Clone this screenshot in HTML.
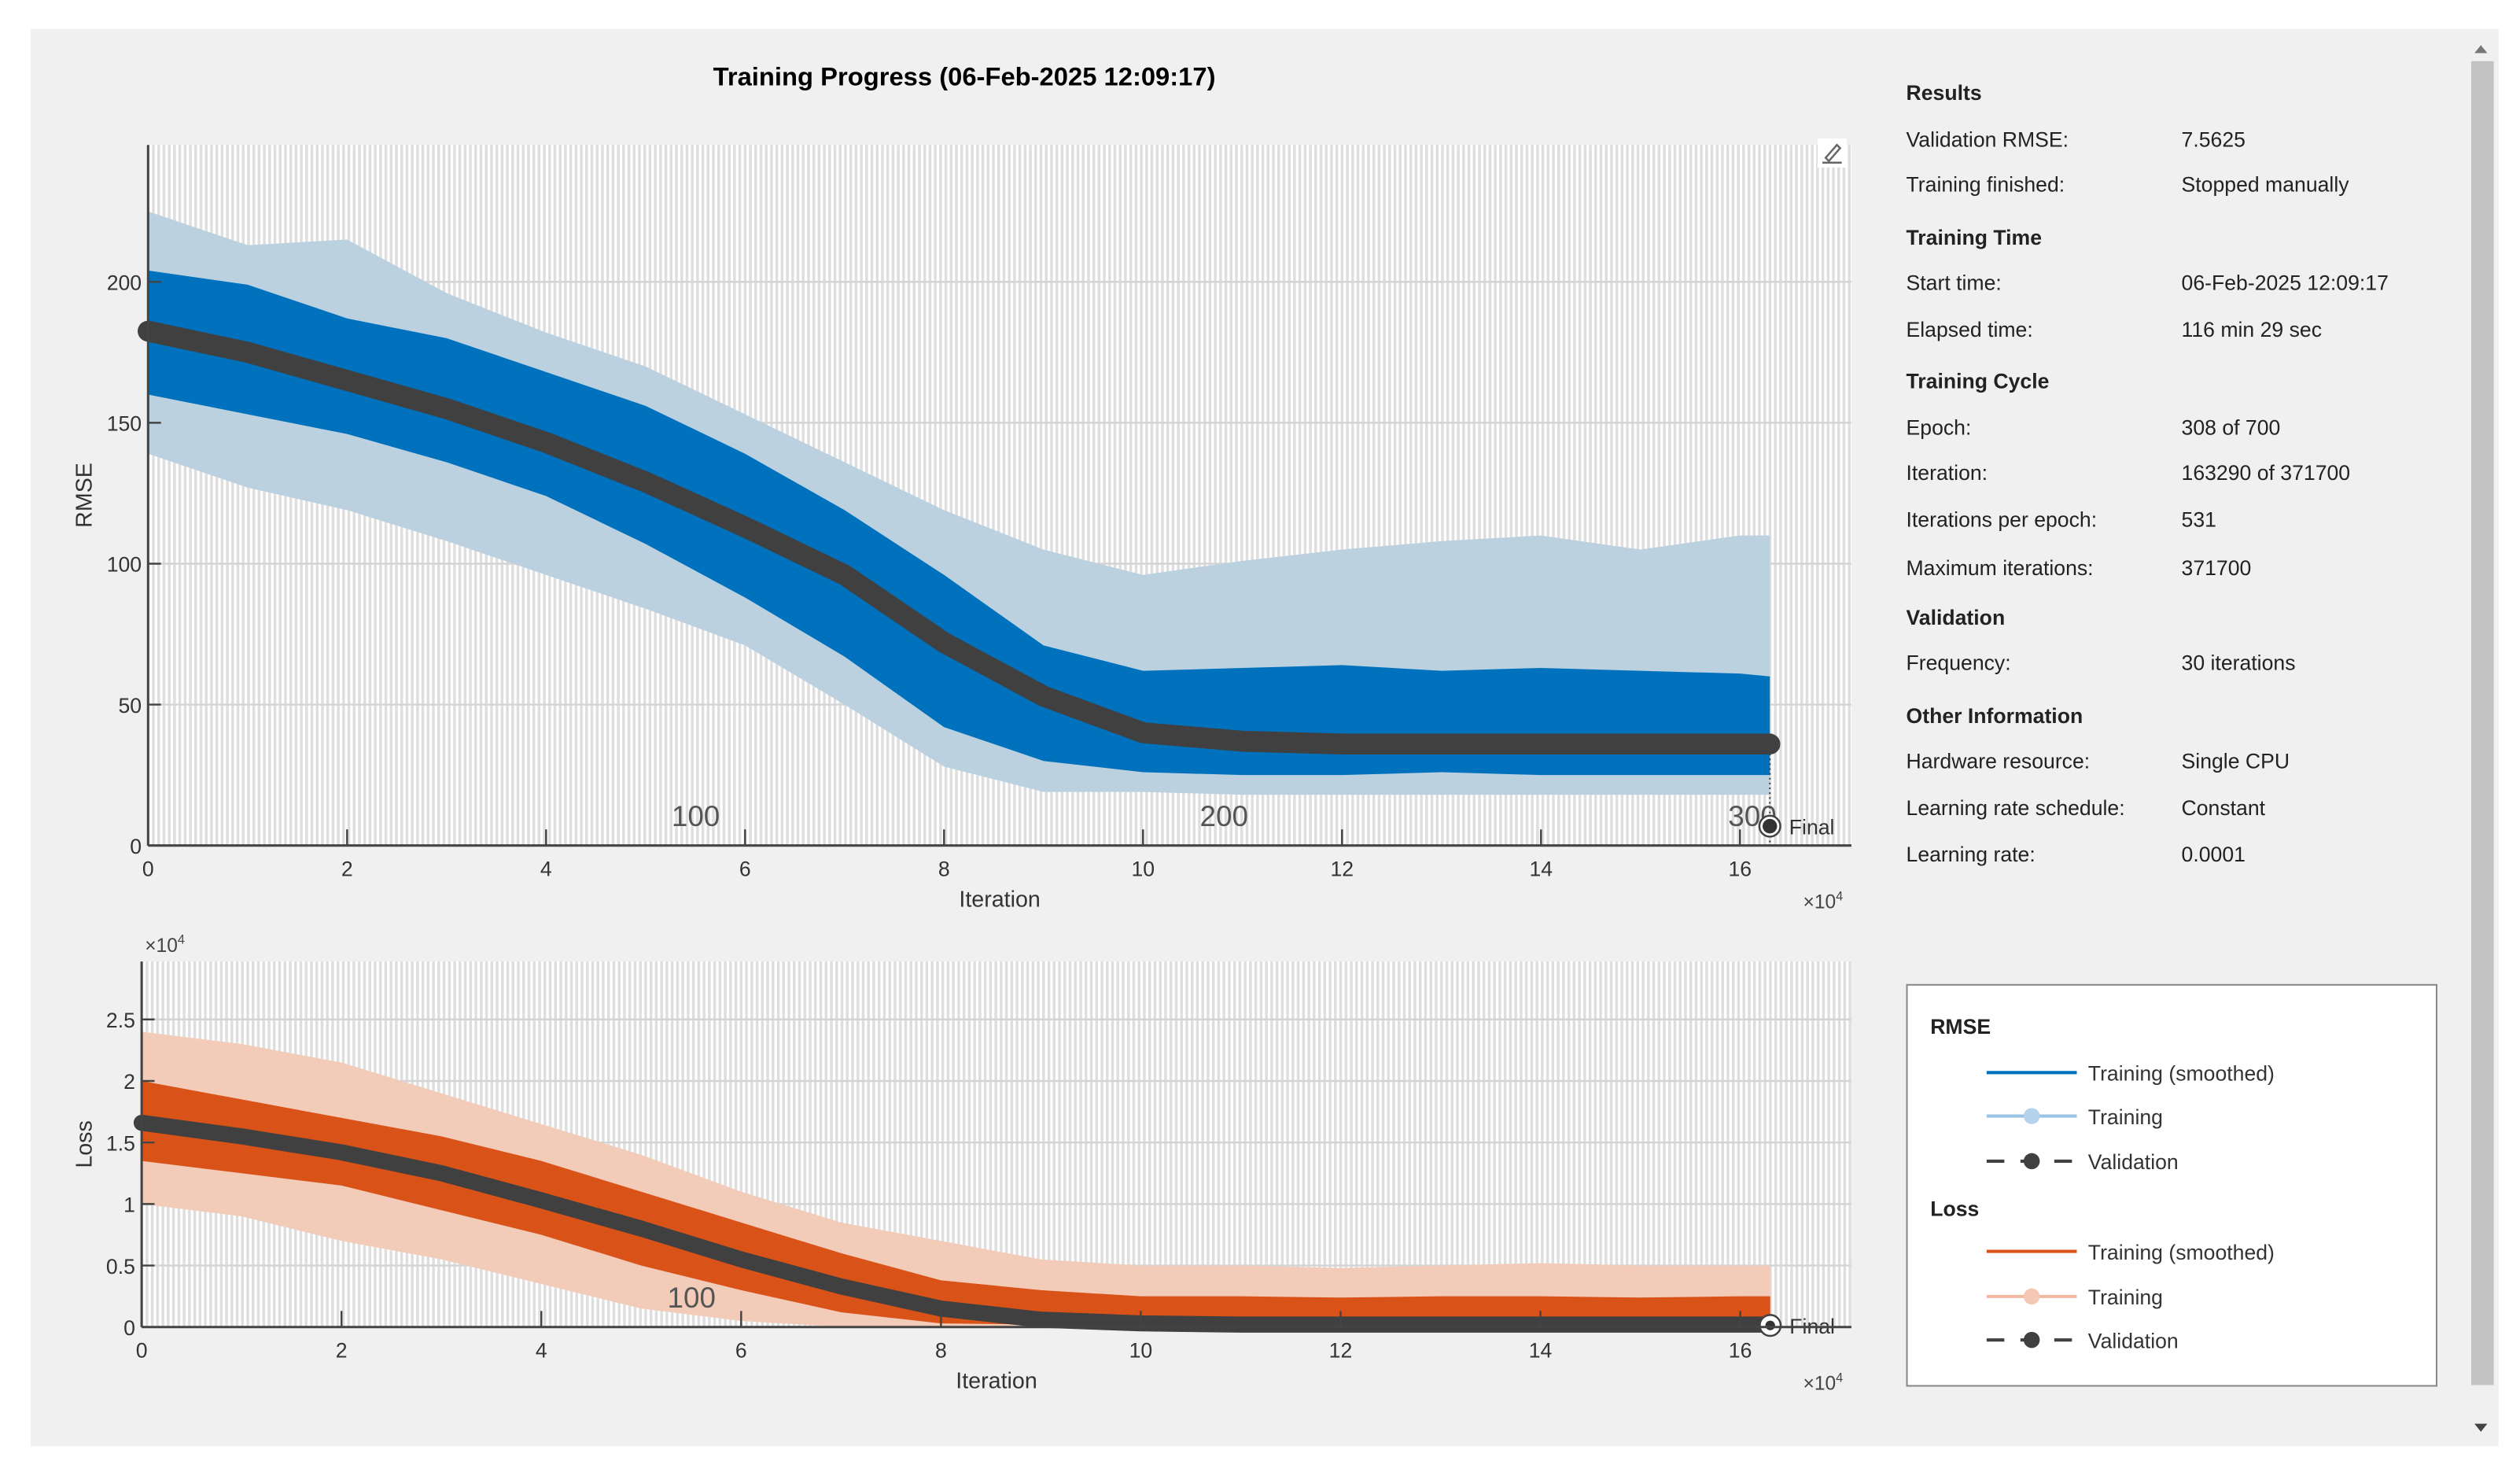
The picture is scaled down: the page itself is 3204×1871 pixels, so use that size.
<!DOCTYPE html>
<html><head><meta charset="utf-8"><style>
html,body{margin:0;padding:0;background:#fff;}
svg{display:block;font-family:"Liberation Sans",Arial,sans-serif;}
</style></head><body>
<svg id="fig" width="3204" height="1871" viewBox="0 0 1565.3 914" preserveAspectRatio="none" xmlns="http://www.w3.org/2000/svg">
<rect x="0" y="0" width="1565.3" height="914" fill="#ffffff"/>
<rect x="19" y="18" width="1533" height="880" fill="#f0f0f0"/>
<g>
<rect x="1535" y="38" width="14" height="822" fill="#c2c2c2"/>
<path d="M1537 33 L1545 33 L1541 28 Z" fill="#777"/>
<path d="M1537 884 L1545 884 L1541 889 Z" fill="#444"/>
</g>
<text x="599" y="53" font-size="16" font-weight="bold" text-anchor="middle" fill="#000">Training Progress (06-Feb-2025 12:09:17)</text>

<g id="topAx"></g>
<g id="botAx"></g>

<g transform="translate(1138,95)">
<rect x="-9" y="-9" width="18" height="18" fill="#fff"/>
<path d="M-6 6 L6 6 M-4 3 L3 -5 L5 -3 L-2 5 Z" stroke="#666" fill="none" stroke-width="1.2"/>
</g>

<g font-size="13" fill="#222">
<text x="1184" y="62" font-weight="bold">Results</text>
<text x="1184" y="91">Validation RMSE:</text><text x="1355" y="91">7.5625</text>
<text x="1184" y="119">Training finished:</text><text x="1355" y="119">Stopped manually</text>
<text x="1184" y="152" font-weight="bold">Training Time</text>
<text x="1184" y="180">Start time:</text><text x="1355" y="180">06-Feb-2025 12:09:17</text>
<text x="1184" y="209">Elapsed time:</text><text x="1355" y="209">116 min 29 sec</text>
<text x="1184" y="241" font-weight="bold">Training Cycle</text>
<text x="1184" y="270">Epoch:</text><text x="1355" y="270">308 of 700</text>
<text x="1184" y="298">Iteration:</text><text x="1355" y="298">163290 of 371700</text>
<text x="1184" y="327">Iterations per epoch:</text><text x="1355" y="327">531</text>
<text x="1184" y="357">Maximum iterations:</text><text x="1355" y="357">371700</text>
<text x="1184" y="388" font-weight="bold">Validation</text>
<text x="1184" y="416">Frequency:</text><text x="1355" y="416">30 iterations</text>
<text x="1184" y="449" font-weight="bold">Other Information</text>
<text x="1184" y="477">Hardware resource:</text><text x="1355" y="477">Single CPU</text>
<text x="1184" y="506">Learning rate schedule:</text><text x="1355" y="506">Constant</text>
<text x="1184" y="535">Learning rate:</text><text x="1355" y="535">0.0001</text>
</g>

<g font-size="13" fill="#333">
<rect x="1184.5" y="611.5" width="329" height="249" fill="#fff" stroke="#888" stroke-width="1"/>
<text x="1199" y="642" font-weight="bold" fill="#222">RMSE</text>
<g><line x1="1234" y1="666" x2="1290" y2="666" stroke="#0072bd" stroke-width="2"/><text x="1297" y="671">Training (smoothed)</text></g>
<g><line x1="1234" y1="693" x2="1290" y2="693" stroke="#9cc3e2" stroke-width="2"/><circle cx="1262" cy="693" r="5" fill="#b5d3ec"/><text x="1297" y="698">Training</text></g>
<g><line x1="1234" y1="721" x2="1290" y2="721" stroke="#404040" stroke-width="2" stroke-dasharray="11,10"/><circle cx="1262" cy="721" r="5" fill="#404040"/><text x="1297" y="726">Validation</text></g>
<text x="1199" y="755" font-weight="bold" fill="#222">Loss</text>
<g><line x1="1234" y1="777" x2="1290" y2="777" stroke="#d95319" stroke-width="2"/><text x="1297" y="782">Training (smoothed)</text></g>
<g><line x1="1234" y1="805" x2="1290" y2="805" stroke="#f0b8a0" stroke-width="2"/><circle cx="1262" cy="805" r="5" fill="#f4c8b4"/><text x="1297" y="810">Training</text></g>
<g><line x1="1234" y1="832" x2="1290" y2="832" stroke="#404040" stroke-width="2" stroke-dasharray="11,10"/><circle cx="1262" cy="832" r="5" fill="#404040"/><text x="1297" y="837">Validation</text></g>
</g>
</svg>
<script>
// ---- data (iterations in units of 1e4) ----
const iterTicks = [0,2,4,6,8,10,12,14,16];
const rmseTicks = [0,50,100,150,200];
const lossTicks = [0,0.5,1,1.5,2,2.5];
const lossTickLabels = ["0","0.5","1","1.5","2","2.5"];
const itersPerEpoch = 531;
const maxIterShown = 17.12e4;
const epochLabels = [100,200,300];
const sampleIters = [0,1,2,3,4,5,6,7,8,9,10,11,12,13,14,15,16,16.3];
const rmseValidation = [182.5,175,165,155,143,129,113,96,72,53,40,37,36,36,36,36,36,36];
const rmseSmoothHi = [204,199,187,180,168,156,139,119,96,71,62,63,64,62,63,62,61,60];
const rmseSmoothLo = [160,153,146,136,124,107,88,67,42,30,26,25,25,26,25,25,25,25];
const rmseRawHi = [225,213,215,196,182,170,153,136,119,105,96,101,105,108,110,105,110,110];
const rmseRawLo = [139,127,119,108,96,84,71,50,28,19,19,18,18,18,18,18,18,18];
const lossValidation = [1.66,1.55,1.42,1.25,1.03,0.8,0.55,0.33,0.15,0.06,0.03,0.02,0.02,0.02,0.02,0.02,0.02,0.02];
const lossSmoothHi = [2.0,1.85,1.7,1.55,1.35,1.1,0.85,0.6,0.38,0.3,0.25,0.25,0.24,0.25,0.25,0.24,0.25,0.25];
const lossSmoothLo = [1.35,1.25,1.15,0.95,0.75,0.5,0.3,0.12,0.03,0.02,0.02,0.02,0.02,0.02,0.02,0.02,0.02,0.02];
const lossRawHi = [2.4,2.3,2.15,1.9,1.65,1.4,1.1,0.85,0.7,0.55,0.5,0.5,0.48,0.5,0.52,0.5,0.5,0.5];
const lossRawLo = [1.0,0.9,0.7,0.55,0.35,0.15,0.05,0,0,0,0,0,0,0,0,0,0,0];

const NS="http://www.w3.org/2000/svg";
function mk(parent,tag,attrs){const e=document.createElementNS(NS,tag);for(const k in attrs)e.setAttribute(k,attrs[k]);parent.appendChild(e);return e;}

function drawAxes(g,o){
  const x=v=>o.x0+v/1e4*o.pxPer;
  const y=v=>o.yBot-(v-0)*o.pyPer;
  mk(g,'rect',{x:o.x0,y:o.yTop,width:o.x1-o.x0,height:o.yBot-o.yTop,fill:'#ffffff'});
  for(let k=1;k*itersPerEpoch<=maxIterShown;k++){
    const l=mk(g,'line',{x1:x(k*itersPerEpoch),x2:x(k*itersPerEpoch),y1:o.yTop,y2:o.yBot,stroke:'#dedede','stroke-width':1.7});
    
    
  }
  o.yTicks.forEach(t=>{ if(t>0){const l=mk(g,'line',{x1:o.x0,x2:o.x1,y1:y(t),y2:y(t),stroke:'#d4d4d4','stroke-width':1.2});
    
    }});
  const band=(hi,lo,fill,name)=>{
    let d='';sampleIters.forEach((s,i)=>{d+=(i?'L':'M')+x(s*1e4)+' '+y(hi[i])+' ';});
    for(let i=sampleIters.length-1;i>=0;i--)d+='L'+x(sampleIters[i]*1e4)+' '+y(lo[i])+' ';
    const p=mk(g,'path',{d:d+'Z',fill:fill});
    
    
  };
  band(o.rawHi,o.rawLo,o.rawColor,'training-raw-band');
  band(o.smHi,o.smLo,o.smColor,'training-smoothed-band');
  let d='';sampleIters.forEach((s,i)=>{d+=(i?'L':'M')+x(s*1e4)+' '+y(o.val[i])+' ';});
  const vl=mk(g,'path',{d:d,fill:'none',stroke:'#404040','stroke-width':o.valW,'stroke-linecap':'round','stroke-linejoin':'round'});
  
  
  o.epochLbls.forEach(ep=>{const t=mk(g,'text',{x:x(ep*itersPerEpoch)+12,y:o.yBot-12,'font-size':18,'text-anchor':'middle',fill:'#555'});t.textContent=ep;
    
    });
  const fx=x(sampleIters[sampleIters.length-1]*1e4);
  mk(g,'line',{x1:fx,x2:fx,y1:y(o.val[o.val.length-1]),y2:o.yBot,stroke:'#404040','stroke-dasharray':'1,2'});
  const fc=mk(g,'circle',{cx:fx,cy:o.finalY,r:6.5,fill:'#fff',stroke:'#404040','stroke-width':1.2});
  
  
  mk(g,'circle',{cx:fx,cy:o.finalY,r:o.finalDot,fill:'#333'});
  const ft=mk(g,'text',{x:fx+12,y:o.finalY+5,'font-size':13,fill:'#333'});ft.textContent='Final';
  mk(g,'line',{x1:o.x0,x2:o.x1,y1:o.yBot,y2:o.yBot,stroke:'#444','stroke-width':1.5});
  mk(g,'line',{x1:o.x0,x2:o.x0,y1:o.yTop,y2:o.yBot,stroke:'#444','stroke-width':1.5});
  iterTicks.forEach(t=>{mk(g,'line',{x1:x(t*1e4),x2:x(t*1e4),y1:o.yBot,y2:o.yBot-10,stroke:'#444','stroke-width':1.2});
    const tx=mk(g,'text',{x:x(t*1e4),y:o.yBot+19,'font-size':13,'text-anchor':'middle',fill:'#333'});tx.textContent=t;
    
    });
  o.yTicks.forEach((t,i)=>{mk(g,'line',{x1:o.x0,x2:o.x0+8,y1:y(t),y2:y(t),stroke:'#444','stroke-width':1.2});
    const tx=mk(g,'text',{x:o.x0-4,y:y(t)+5,'font-size':13,'text-anchor':'end',fill:'#333'});tx.textContent=o.yLabels[i];
    
    });
  const xl=mk(g,'text',{x:(o.x0+o.x1)/2,y:o.yBot+38,'font-size':14,'text-anchor':'middle',fill:'#333'});xl.textContent='Iteration';
  
  
  const ex=mk(g,'text',{x:o.x1-30,y:o.yBot+39,'font-size':12,fill:'#444'});ex.innerHTML='×10<tspan dy="-5" font-size="8">4</tspan>';
  const yl=mk(g,'text',{x:0,y:0,'font-size':14,'text-anchor':'middle',fill:'#333',transform:`translate(57,${(o.yTop+o.yBot)/2}) rotate(-90)`});yl.textContent=o.yTitle;
  
  
}
drawAxes(document.getElementById('topAx'),{x0:92,x1:1150,yTop:90,yBot:525,pxPer:61.8,pyPer:1.75,yTicks:rmseTicks,yLabels:rmseTicks.map(String),
  rawHi:rmseRawHi,rawLo:rmseRawLo,smHi:rmseSmoothHi,smLo:rmseSmoothLo,val:rmseValidation,rawColor:'#bcd1e0',smColor:'#0072bd',valW:13,
  epochLbls:epochLabels,finalY:513,finalDot:4.5,yTitle:'RMSE'});
drawAxes(document.getElementById('botAx'),{x0:88,x1:1150,yTop:597,yBot:824,pxPer:62.06,pyPer:76.4/1e4,yTicks:lossTicks.map(v=>v*1e4),yLabels:lossTickLabels,
  rawHi:lossRawHi.map(v=>v*1e4),rawLo:lossRawLo.map(v=>v*1e4),smHi:lossSmoothHi.map(v=>v*1e4),smLo:lossSmoothLo.map(v=>v*1e4),val:lossValidation.map(v=>v*1e4),
  rawColor:'#f2cbb9',smColor:'#d95319',valW:10,epochLbls:[100],finalY:823,finalDot:3,yTitle:'Loss'});
const bx=document.createElementNS(NS,'text');
bx.setAttribute('x',90);bx.setAttribute('y',591);bx.setAttribute('font-size',12);bx.setAttribute('fill','#444');
bx.innerHTML='×10<tspan dy="-5" font-size="8">4</tspan>';


document.getElementById('botAx').appendChild(bx);
</script>
</body></html>
